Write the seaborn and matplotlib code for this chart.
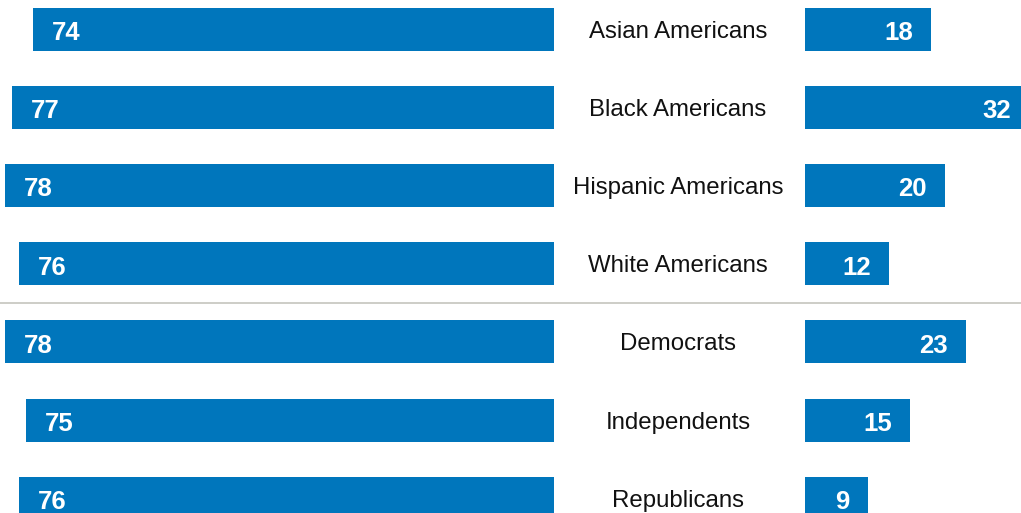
import matplotlib
matplotlib.use("Agg")
import matplotlib.pyplot as plt
import matplotlib.transforms as mtransforms
import pandas as pd
import seaborn as sns

groups = ["Asian Americans", "Black Americans", "Hispanic Americans",
          "White Americans", "Democrats", "Independents", "Republicans"]
left_values = [74, 77, 78, 76, 78, 75, 76]
right_values = [18, 32, 20, 12, 23, 15, 9]

BLUE = "#0076BC"
W, H = 1021, 513

sns.set_theme(style="white")
plt.rcParams["font.family"] = ["Liberation Sans", "DejaVu Sans"]

df = pd.DataFrame({"group": groups, "left": left_values, "right": right_values})

fig = plt.figure(figsize=(W / 100, H / 100), dpi=100)
left_end = 553.5
right_start = 804.5
ax_l = fig.add_axes([0, 0, left_end / W, 1])
ax_r = fig.add_axes([right_start / W, 0, (W - right_start) / W, 1])

px_per_unit = 7.03
row_px = 78.2
top_center = 29
ylim = ((H - top_center) / row_px, -top_center / row_px)
bar_h = 43 / row_px
label_dy = 1.5 / row_px

sns.barplot(data=df, x="left", y="group", orient="h", color=BLUE,
            saturation=1, width=bar_h, linewidth=0, ax=ax_l)
sns.barplot(data=df, x="right", y="group", orient="h", color=BLUE,
            saturation=1, width=bar_h, linewidth=0, ax=ax_r)

ax_l.set_xlim(left_end / px_per_unit, 0)
ax_r.set_xlim(0, (W - right_start) / px_per_unit)
for ax in (ax_l, ax_r):
    ax.set_ylim(*ylim)
    ax.axis("off")

for i, v in enumerate(left_values):
    ax_l.text(v - 19 / px_per_unit, i + label_dy, str(v), ha="left",
              va="center_baseline", color="white", fontsize=18.5,
              fontweight="bold")
for i, v in enumerate(right_values):
    t = ax_r.text(v - 18 / px_per_unit, i + label_dy, str(v), ha="right",
                  va="center_baseline", color="white", fontsize=18.5,
                  fontweight="bold")
    t.set_clip_on(True)

trans = mtransforms.blended_transform_factory(fig.transFigure, ax_l.transData)
for i, g in enumerate(groups):
    fig.text(678 / W, i, g, transform=trans, ha="center",
             va="center_baseline", fontsize=17.3, color="#111111")

# divider between race/ethnicity and party rows
fig.add_artist(plt.Line2D([0, 1], [1 - 302.5 / H, 1 - 302.5 / H],
                          transform=fig.transFigure, color="#C5C5BD", lw=1.2))

fig.savefig("out.png", dpi=100)
